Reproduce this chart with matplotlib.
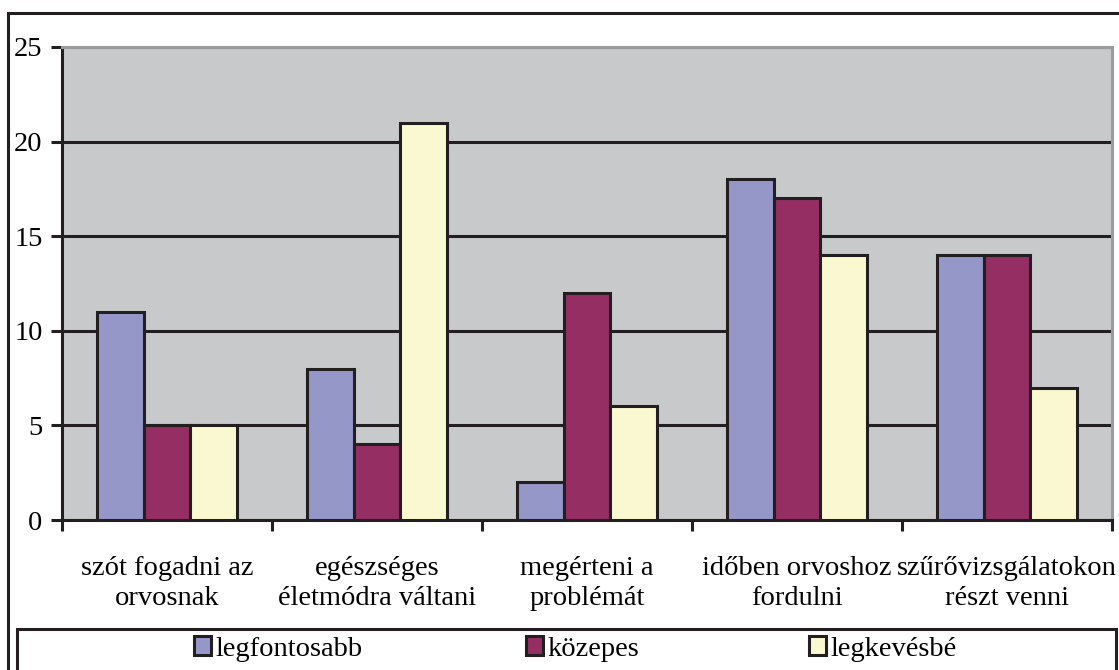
import matplotlib
matplotlib.use('Agg')
import matplotlib.pyplot as plt
import numpy as np
from matplotlib.patches import Rectangle

# --- data ---
categories = ['szót fogadni az\norvosnak', 'egészséges\néletmódra váltani',
              'megérteni a\nproblémát', 'időben orvoshoz\nfordulni',
              'szűrővizsgálatokon\nrészt venni']
series_names = ['legfontosabb', 'közepes', 'legkevésbé']
legfontosabb = [11, 8, 2, 18, 14]
kozepes = [5, 4, 12, 17, 14]
legkevesbe = [5, 21, 6, 14, 7]
y_ticks = [0, 5, 10, 15, 20, 25]

# colours
c_blue = '#9697c9'
c_maroon = '#952e62'
c_yellow = '#faf8d0'
c_bg = '#c8c9cb'
c_edge = '#231f20'

plt.rcParams['font.family'] = ['Liberation Serif', 'DejaVu Serif']
FS = 20.5

W, H = 1119, 670
fig = plt.figure(figsize=(W / 100, H / 100), dpi=100)

# plot area in pixel coordinates
left, right, top, bottom = 62, 1112, 47, 520
ax = fig.add_axes([left / W, 1 - bottom / H, (right - left) / W, (bottom - top) / H])
ax.set_facecolor(c_bg)

x = np.arange(len(categories)) + 0.5
bw = 0.222
lw = 2.2
for i, (vals, col) in enumerate(zip([legfontosabb, kozepes, legkevesbe],
                                    [c_blue, c_maroon, c_yellow])):
    ax.bar(x + (i - 1) * bw, vals, width=bw, color=col, edgecolor=c_edge,
           linewidth=lw, zorder=3, label=series_names[i])

ax.set_xlim(0, len(categories))
ax.set_ylim(0, 25)
ax.set_yticks(y_ticks)
ax.set_yticklabels([str(t) for t in y_ticks], fontsize=FS)
ax.yaxis.grid(True, color=c_edge, linewidth=lw, zorder=1)
ax.set_axisbelow(True)

# category boundaries as ticks, labels at the centres
ax.set_xticks(np.arange(len(categories) + 1))
ax.set_xticklabels([])
ax.set_xticks(x, minor=True)
ax.set_xticklabels(categories, minor=True, fontsize=FS, linespacing=1.25)
ax.tick_params(axis='x', which='minor', length=0, pad=26)
ax.tick_params(axis='x', which='major', length=8, width=lw, color=c_edge, direction='out')
ax.tick_params(axis='y', length=8, width=lw, color=c_edge, pad=6)

for s in ['left', 'bottom']:
    ax.spines[s].set_color(c_edge)
    ax.spines[s].set_linewidth(lw)
for s in ['top', 'right']:
    ax.spines[s].set_color('#9a9b9d')
    ax.spines[s].set_linewidth(lw)

# outer frame and legend box
fig.patches.append(Rectangle((8 / W, -0.05), 1.2, 1 - 13 / H + 0.05,
                             transform=fig.transFigure, fill=False,
                             edgecolor=c_edge, linewidth=2.2))
fig.patches.append(Rectangle((17 / W, -0.05), (1116 - 17) / W, 1 - 629 / H + 0.05,
                             transform=fig.transFigure, fill=False,
                             edgecolor=c_edge, linewidth=2.2))

handles, labels = ax.get_legend_handles_labels()
leg_x = [194, 526, 809]
for h, lab, lx in zip(handles, labels, leg_x):
    lg = fig.legend([h], [lab], loc='center left',
                    bbox_to_anchor=(lx / W, 1 - 649 / H), frameon=False,
                    fontsize=FS, handlelength=0.6, handleheight=0.65,
                    handletextpad=0.15, borderpad=0, borderaxespad=0)

fig.savefig('out.png', dpi=100)
